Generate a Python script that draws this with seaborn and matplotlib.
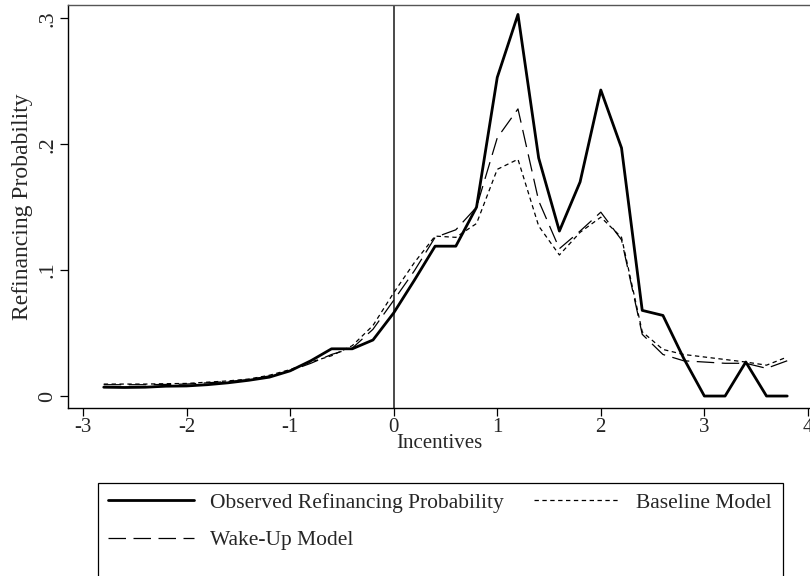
import matplotlib
matplotlib.use("Agg")
import matplotlib.pyplot as plt
from matplotlib.patches import Rectangle
import seaborn as sns
import numpy as np

incentives = [-2.8, -2.6, -2.4, -2.2, -2.0, -1.8, -1.6, -1.4, -1.2, -1.0,
              -0.8, -0.6, -0.4, -0.2, 0.0, 0.2, 0.4, 0.6, 0.8, 1.0,
              1.2, 1.4, 1.6, 1.8, 2.0, 2.2, 2.4, 2.6, 2.8, 3.0,
              3.2, 3.4, 3.6, 3.8]
observed = [0.007, 0.0068, 0.007, 0.0078, 0.008, 0.009, 0.0105, 0.0125, 0.015, 0.020,
            0.028, 0.0375, 0.0375, 0.0445, 0.066, 0.092, 0.119, 0.119, 0.150, 0.253,
            0.303, 0.189, 0.131, 0.170, 0.243, 0.197, 0.068, 0.064, 0.030, 0.0,
            0.0, 0.027, 0.0, 0.0]
wakeup = [0.009, 0.009, 0.009, 0.0092, 0.0095, 0.0105, 0.0115, 0.013, 0.016, 0.020,
          0.026, 0.033, 0.038, 0.053, 0.076, 0.0995, 0.126, 0.132, 0.150, 0.205,
          0.228, 0.155, 0.117, 0.131, 0.146, 0.124, 0.049, 0.033, 0.028, 0.027,
          0.026, 0.026, 0.022, 0.028]
baseline = [0.0095, 0.0095, 0.0095, 0.0098, 0.010, 0.011, 0.012, 0.0135, 0.0165, 0.021,
            0.027, 0.032, 0.040, 0.056, 0.082, 0.106, 0.127, 0.126, 0.137, 0.180,
            0.188, 0.135, 0.112, 0.130, 0.142, 0.126, 0.051, 0.037, 0.033, 0.031,
            0.029, 0.027, 0.0245, 0.031]
series_labels = ["Observed Refinancing Probability", "Wake-Up Model", "Baseline Model"]
xticks = [-3, -2, -1, 0, 1, 2, 3, 4]
xtick_labels = ["-3", "-2", "-1", "0", "1", "2", "3", "4"]
yticks = [0.0, 0.1, 0.2, 0.3]
ytick_labels = ["0", ".1", ".2", ".3"]

sns.set_theme(style="white")
plt.rcParams['font.family'] = ['Liberation Serif', 'DejaVu Serif']

fig = plt.figure(figsize=(8.1, 5.76), dpi=100)
ax = fig.add_axes([68/810, 1 - 408/576, 1 - 68/810, (408 - 5)/576])

sns.lineplot(x=incentives, y=observed, ax=ax, color="black", linewidth=2.0,
             label=series_labels[0])
sns.lineplot(x=incentives, y=wakeup, ax=ax, color="black", linewidth=0.9,
             linestyle=(0, (14, 6)), label=series_labels[1])
sns.lineplot(x=incentives, y=baseline, ax=ax, color="black", linewidth=0.9,
             linestyle=(0, (3.5, 2.8)), label=series_labels[2])

ax.axvline(0, color="#4a4a4a", linewidth=1.4, zorder=0)

ax.set_xlim(-3.145, 4.02)
ax.set_ylim(-0.0095, 0.3105)
ax.set_xticks(xticks)
ax.set_xticklabels(xtick_labels)
ax.set_yticks(yticks)
ax.set_yticklabels(ytick_labels, rotation=90, va="center")
ax.tick_params(axis="both", which="major", direction="out", length=6, width=0.9,
               color="black", pad=1.5, left=True, bottom=True)
ax.tick_params(axis="x", labelsize=15)
ax.tick_params(axis="y", labelsize=16)
ax.set_xlabel("Incentives", fontsize=15, labelpad=-2.5)
ax.set_ylabel("Refinancing Probability", fontsize=17, labelpad=4)

for side in ["left", "bottom"]:
    ax.spines[side].set_color("black")
    ax.spines[side].set_linewidth(1.0)
ax.spines["top"].set_color("#555555")
ax.spines["top"].set_linewidth(1.0)
ax.spines["right"].set_visible(False)

ax.get_legend().remove()
handles, labels = ax.get_legend_handles_labels()
leg = fig.legend(handles, labels, ncol=2, loc="upper left",
                 bbox_to_anchor=(98/810, 1 - 483/576), fontsize=15.5,
                 frameon=False,
                 handlelength=4.0, columnspacing=1.4, borderpad=0.45,
                 labelspacing=0.8, handletextpad=0.75, borderaxespad=0)

fig.patches.append(Rectangle((98/810, -0.02), (783 - 98)/810, (0.02 + 1 - 483/576),
                             transform=fig.transFigure, fill=False,
                             edgecolor="black", linewidth=0.9))

fig.savefig("out.png", dpi=100)
